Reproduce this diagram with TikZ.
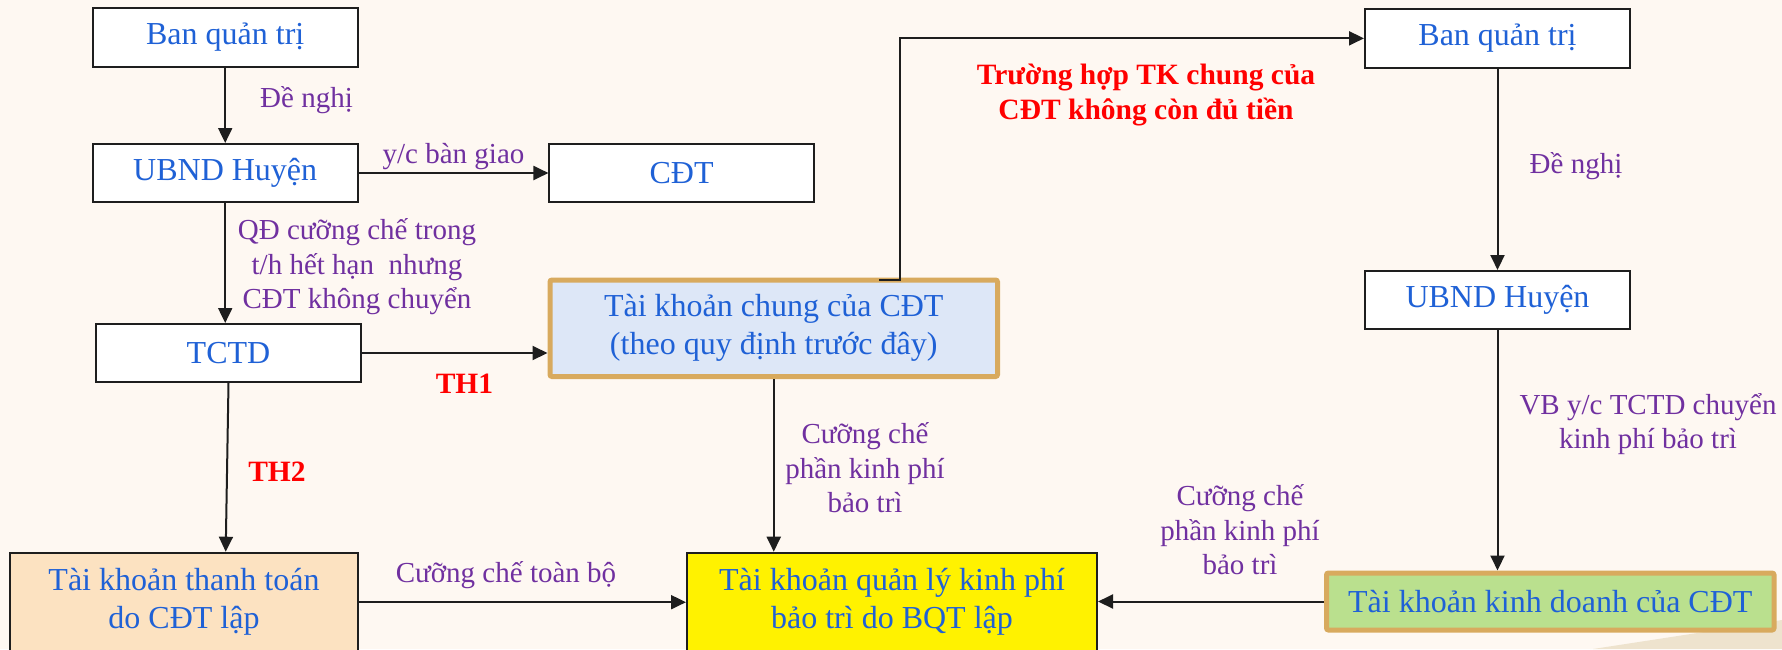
\documentclass[tikz,border=0pt]{standalone}
\usepackage{fontspec}
\setmainfont{Liberation Serif}
\usetikzlibrary{arrows.meta}

\definecolor{bgcream}{RGB}{254,248,242}
\definecolor{txtblue}{RGB}{31,97,214}
\definecolor{lblpurple}{RGB}{112,48,160}
\definecolor{tanborder}{RGB}{216,170,94}
\definecolor{chungfill}{RGB}{221,231,247}
\definecolor{greenfill}{RGB}{186,224,142}
\definecolor{peachfill}{RGB}{252,226,193}
\definecolor{wedgetan}{RGB}{238,227,206}
\definecolor{arrowgray}{RGB}{30,30,30}

\begin{document}
\begin{tikzpicture}[x=0.5pt,y=0.5pt,yscale=-1,xscale=1,
  box/.style={draw=arrowgray, line width=1pt, fill=white, text=txtblue, font=\fontsize{16}{19}\selectfont, inner sep=0pt, align=center},
  accbox/.style={box, draw=tanborder, line width=2.5pt, rounded corners=1pt},
  lbl/.style={text=lblpurple, font=\fontsize{14.5}{17.25}\selectfont, inner sep=0pt, align=center},
  casetxt/.style={text=red, font=\fontsize{14.75}{17.15}\selectfont\bfseries, inner sep=0pt, align=center},
  arr/.style={draw=arrowgray, line width=1pt, -{Triangle[length=7.5pt,width=7pt]}}]
%set diagram left start at 0, and has height of 649
\fill [bgcream] (0,0) rectangle (1782,649);
\useasboundingbox (0,0) rectangle (1782,649);
%Shape: Wedge bottom right
\fill [wedgetan] (1593,649) -- (1782,620) -- (1782,649) -- cycle;

%Shape: Rectangle, left column
\node [box, minimum width=132.5pt, minimum height=29.2pt] (bqtL) at (225.2,37.5) {Ban quản trị};
\node [box, minimum width=132.5pt, minimum height=29pt] (ubndL) at (225.2,173) {UBND Huyện};
\node [box, minimum width=132.15pt, minimum height=29pt] (cdt) at (681.6,173) {CĐT};
\node [box, minimum width=132.5pt, minimum height=29pt] (tctd) at (228.5,353) {TCTD};
\node [accbox, fill=chungfill, minimum width=223.75pt, minimum height=48.25pt] (chung) at (773.75,328.25) {Tài khoản chung của CĐT\\(theo quy định trước đây)};
\node [box, fill=peachfill, minimum width=173.75pt, minimum height=49.5pt] (thanhtoan) at (184,602.2) {Tài khoản thanh toán\\do CĐT lập};
\node [box, fill=yellow, minimum width=205pt, minimum height=49.5pt] (qly) at (892,602.2) {Tài khoản quản lý kinh phí\\bảo trì do BQT lập};
%Shape: Rectangle, right column
\node [box, minimum width=132.5pt, minimum height=29.35pt] (bqtR) at (1497.5,38.35) {Ban quản trị};
\node [box, minimum width=132.5pt, minimum height=29pt] (ubndR) at (1497.5,300) {UBND Huyện};
\node [accbox, fill=greenfill, minimum width=223.75pt, minimum height=28.5pt] (kinhdoanh) at (1550.25,601.5) {Tài khoản kinh doanh của CĐT};

%Straight Lines
\draw [arr] (bqtL) -- (ubndL);
\draw [arr] (ubndL) -- (cdt);
\draw [arr] (ubndL.south) -- (ubndL.south |- tctd.north);
\draw [arr] (tctd.east) -- (tctd.east -| chung.west);
\coordinate (th2end) at (225.7,551.7);
\draw [arr] (tctd.south) -- (th2end);
\draw [arr] (chung.south) -- (chung.south |- qly.north);
\coordinate (elbowstart) at (879,280);
\coordinate (elbowup) at (900,160);
\draw [arr] (elbowstart) -| (elbowup) |- (bqtR.west);
\draw [arr] (bqtR) -- (ubndR);
\draw [arr] (ubndR.south) -- (ubndR.south |- kinhdoanh.north);
\draw [arr] (kinhdoanh.west) -- (kinhdoanh.west -| qly.east);
\draw [arr] (thanhtoan.east) -- (thanhtoan.east -| qly.west);

% Text Node
\node [lbl, anchor=base] (denghiL) at (306.5,107) {Đề nghị};
% Text Node
\node [lbl, anchor=base] (bangiao) at (453.5,163) {y/c bàn giao};
% Text Node
\node [lbl] (qdcc) at (357,267) {QĐ cưỡng chế trong\\t/h hết hạn\ \ nhưng\\CĐT không chuyển};
% Text Node
\node [casetxt, anchor=base] (th1) at (464.5,393) {TH1};
% Text Node
\node [casetxt, anchor=base] (th2) at (277,481) {TH2};
% Text Node
\node [lbl, anchor=base] (toanbo) at (506,582) {Cưỡng chế toàn bộ};
% Text Node
\node [lbl] (ccmid) at (865,468) {Cưỡng chế\\phần kinh phí\\bảo trì};
% Text Node
\node [lbl] (ccright) at (1240,530) {Cưỡng chế\\phần kinh phí\\bảo trì};
% Text Node
\node [casetxt] (tkchung) at (1146,95) {Trường hợp TK chung của\\CĐT không còn đủ tiền};
% Text Node
\node [lbl, anchor=base] (denghiR) at (1576,173) {Đề nghị};
% Text Node
\node [lbl] (vbyc) at (1648,424) {VB y/c TCTD chuyển\\kinh phí bảo trì};

\end{tikzpicture}
\end{document}
